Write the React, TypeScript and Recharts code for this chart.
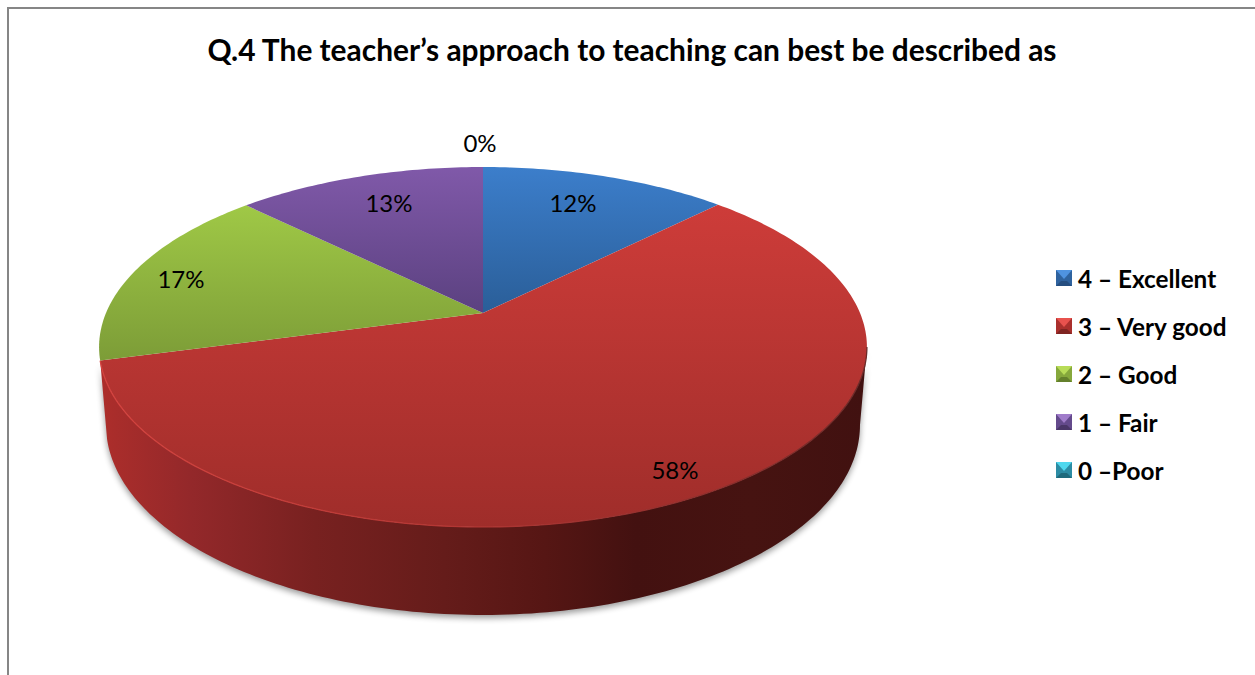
import React from "react";
import { PieChart, Pie, Legend } from "recharts";

const TITLE = "Q.4 The teacher’s approach to teaching can best be described as";
const categories = ["4 – Excellent", "3 – Very good", "2 – Good", "1 – Fair", "0 –Poor"];
const shares = [12.49, 58.31, 16.6, 12.6, 0];

const FONT = "Lato, sans-serif";
const W = 1255;
const H = 675;

// Style tables (per slice): face gradient, legend bevel
const faceTop = ["#3c7ecb", "#cd3c39", "#9fc846", "#8059a9", "#37b4d0"];
const faceBottom = ["#2a5e98", "#9f2d2a", "#7c9c37", "#5b4180", "#2a8aa0"];
const faceY1 = [167, 207, 207, 167, 167];
const faceY2 = [313, 527, 362, 313, 313];
const bevelLight = ["#4f93e0", "#e8524e", "#b8dc58", "#a07cca", "#4fd8ee"];
const bevelMid = ["#2f639f", "#aa302d", "#86a83c", "#644a8c", "#2c8ca4"];
const bevelDark = ["#254e80", "#7f2422", "#64802c", "#4a3668", "#1f6a7c"];

// Tilted-disc projection: a unit circle seen in perspective
const APEX_X = 483;
const TILT = -0.1889;
const TOP = { d: 377, b: 114.4, c: 313 };
const BASE = { d: 370.2, b: 109.7, c: 389.1 };
const SILHOUETTE = 100.9;

const rad = (t: number) => (t * Math.PI) / 180;
function proj(theta: number, g: { d: number; b: number; c: number }) {
  const u = Math.sin(rad(theta));
  const v = -Math.cos(rad(theta));
  const w = 1 + TILT * v;
  return [APEX_X + (g.d * u) / w, (g.b * v + g.c) / w];
}
function arc(from: number, to: number, g: { d: number; b: number; c: number }) {
  const pts: string[] = [];
  const n = Math.max(1, Math.ceil(Math.abs(to - from)));
  for (let i = 0; i <= n; i++) {
    const p = proj(from + ((to - from) * i) / n, g);
    pts.push(`${p[0].toFixed(2)} ${p[1].toFixed(2)}`);
  }
  return pts;
}

function Slice3D(props: any) {
  const { startAngle, endAngle, index, name } = props;
  const s = 90 - startAngle;
  const e = 90 - endAngle;
  if (e - s < 0.01) return <g />;
  let i = typeof index === "number" ? index : categories.indexOf(name);
  if (i < 0) i = 0;
  const top = arc(s, e, TOP);
  const facePath = `M ${APEX_X} ${TOP.c} L ${top.join(" L ")} Z`;
  const hasWall = s < 180 && e > 180;
  const ws = Math.max(s, SILHOUETTE);
  const we = Math.min(e, 360 - SILHOUETTE);
  const wallPath = hasWall
    ? `M ${arc(ws, we, TOP).join(" L ")} L ${arc(we, ws, BASE).join(" L ")} Z`
    : "";
  const rimPath = hasWall ? `M ${arc(ws, e, TOP).join(" L ")}` : "";
  const gid = `face-${i}`;
  return (
    <g>
      <defs>
        <linearGradient id={gid} gradientUnits="userSpaceOnUse" x1="0" x2="0" y1={faceY1[i]} y2={faceY2[i]}>
          <stop offset="0" stopColor={faceTop[i]} />
          <stop offset="1" stopColor={faceBottom[i]} />
        </linearGradient>
        {hasWall && (
          <>
            <linearGradient id="wall" gradientUnits="userSpaceOnUse" x1="100" x2="866" y1="0" y2="0">
              <stop offset="0" stopColor="#ad2e2b" />
              <stop offset="0.12" stopColor="#93282a" />
              <stop offset="0.28" stopColor="#782120" />
              <stop offset="0.45" stopColor="#651c1a" />
              <stop offset="0.58" stopColor="#561614" />
              <stop offset="0.7" stopColor="#431110" />
              <stop offset="0.85" stopColor="#461311" />
              <stop offset="1" stopColor="#411110" />
            </linearGradient>
            <linearGradient id="rim" gradientUnits="userSpaceOnUse" x1="100" x2="866" y1="0" y2="0">
              <stop offset="0" stopColor="#d4433f" />
              <stop offset="0.45" stopColor="#b53734" />
              <stop offset="0.8" stopColor="#8c2e2c" />
              <stop offset="1" stopColor="#6b2a28" />
            </linearGradient>
            <filter id="soft" x="-5%" y="-5%" width="110%" height="115%">
              <feGaussianBlur stdDeviation="3" />
            </filter>
          </>
        )}
      </defs>
      {hasWall && <path d={wallPath} fill="#000" opacity={0.4} filter="url(#soft)" transform="translate(0 3)" />}
      {hasWall && <path d={wallPath} fill="url(#wall)" />}
      <path d={facePath} fill={`url(#${gid})`} />
      {hasWall && <path d={rimPath} fill="none" stroke="url(#rim)" strokeWidth={1.3} />}
    </g>
  );
}

const labelSpots = [
  [573, 202.5],
  [675, 469.5],
  [181, 278.5],
  [389, 202.5],
  [480, 142.5],
];

function SliceLabel(props: any) {
  const { index, percent } = props;
  const p = labelSpots[index];
  return (
    <text x={p[0]} y={p[1]} textAnchor="middle" dominantBaseline="central" fontFamily={FONT} fontSize={24} fill="#000">
      {`${Math.round(percent * 100)}%`}
    </text>
  );
}

function Bevel({ i }: { i: number }) {
  return (
    <svg width={16} height={16} style={{ display: "block", flex: "none" }}>
      <rect width={16} height={16} fill={bevelMid[i]} />
      <polygon points="0,0 16,0 8,9" fill={bevelLight[i]} />
      <polygon points="0,16 16,16 11,11 5,11" fill={bevelDark[i]} />
    </svg>
  );
}

function LegendBox() {
  return (
    <div style={{ fontFamily: FONT, fontWeight: 700, fontSize: 24.3, color: "#000" }}>
      {categories.map((label, i) => (
        <div key={i} style={{ height: 48, display: "flex", alignItems: "center", gap: 6, whiteSpace: "nowrap" }}>
          <Bevel i={i} />
          <span>{label}</span>
        </div>
      ))}
    </div>
  );
}

const rows = categories.map((name, i) => ({ name, value: shares[i] }));

export default function App() {
  return (
    <div style={{ position: "absolute", left: 0, top: 0, width: W, height: H, overflow: "hidden", background: "#fff" }}>
      <div style={{ position: "absolute", left: 7, top: 7, width: W, height: H, border: "2px solid #868686" }} />
      <PieChart width={W} height={H} margin={{ top: 0, right: 0, bottom: 0, left: 0 }} style={{ position: "absolute", left: 0, top: 0 }}>
        <text x={632} y={48.5} textAnchor="middle" dominantBaseline="central" fontFamily={FONT} fontWeight={700} fontSize={29.9} fill="#000">
          {TITLE}
        </text>
        <Pie
          data={rows}
          dataKey="value"
          nameKey="name"
          cx={483}
          cy={313}
          outerRadius={384}
          startAngle={90}
          endAngle={-270}
          stroke="none"
          isAnimationActive={false}
          shape={Slice3D}
          activeShape={Slice3D}
          inactiveShape={Slice3D}
          label={SliceLabel}
          labelLine={false}
        />
        <Legend
          layout="vertical"
          itemSorter={null}
          content={LegendBox}
          wrapperStyle={{ position: "absolute", left: 1056, top: 254, width: 195, right: "auto", bottom: "auto" }}
        />
      </PieChart>
    </div>
  );
}
